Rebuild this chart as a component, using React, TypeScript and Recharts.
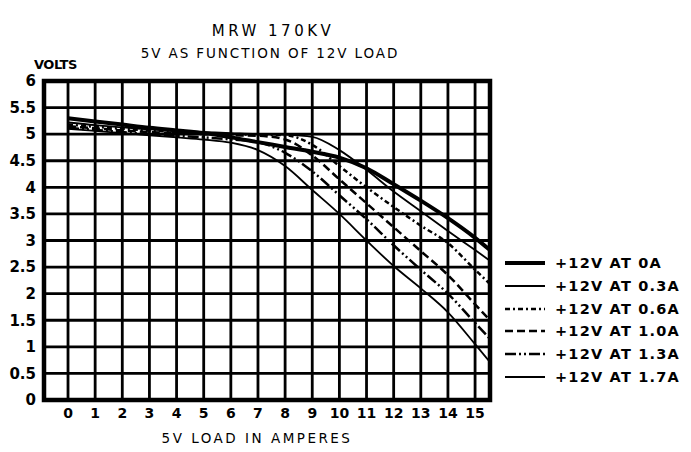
import { LineChart, Line, XAxis, YAxis, CartesianGrid, Legend, ReferenceArea } from 'recharts';

// 5V load in amperes (last point = where the curves leave the frame)
const LOAD = [0, 1, 2, 3, 4, 5, 6, 7, 8, 9, 10, 11, 12, 13, 14, 15, 15.55];

// 5V output (volts) for each 12V load
const V_0A = [5.3, 5.24, 5.18, 5.12, 5.07, 5.02, 4.94, 4.85, 4.76, 4.67, 4.56, 4.36, 4.06, 3.75, 3.42, 3.05, 2.82];
const V_03A = [5.22, 5.17, 5.13, 5.09, 5.06, 5.04, 5.02, 5.0, 4.99, 4.95, 4.7, 4.33, 3.92, 3.55, 3.18, 2.82, 2.62];
const V_06A = [5.18, 5.14, 5.1, 5.07, 5.04, 5.02, 5.0, 4.99, 4.98, 4.8, 4.4, 4.0, 3.63, 3.28, 2.95, 2.45, 2.18];
const V_10A = [5.15, 5.11, 5.07, 5.04, 5.02, 5.0, 4.98, 4.97, 4.9, 4.6, 4.15, 3.7, 3.25, 2.8, 2.35, 1.8, 1.5];
const V_13A = [5.12, 5.08, 5.04, 5.0, 4.97, 4.94, 4.9, 4.85, 4.65, 4.3, 3.85, 3.4, 2.91, 2.45, 2.0, 1.45, 1.15];
const V_17A = [5.1, 5.06, 5.02, 4.98, 4.94, 4.9, 4.84, 4.7, 4.4, 3.95, 3.5, 3.0, 2.52, 2.1, 1.65, 1.05, 0.71];

const X_TICKS = [0, 1, 2, 3, 4, 5, 6, 7, 8, 9, 10, 11, 12, 13, 14, 15];
const Y_TICKS = [0, 0.5, 1, 1.5, 2, 2.5, 3, 3.5, 4, 4.5, 5, 5.5, 6];
const X_DOMAIN = [-0.885, 15.55];

const SERIES = [
  { key: 'a0', name: '+12V AT 0A', values: V_0A, width: 4, dash: undefined },
  { key: 'a03', name: '+12V AT 0.3A', values: V_03A, width: 1.8, dash: undefined },
  { key: 'a06', name: '+12V AT 0.6A', values: V_06A, width: 2.5, dash: '5 3 2 3' },
  { key: 'a10', name: '+12V AT 1.0A', values: V_10A, width: 2.5, dash: '8 4' },
  { key: 'a13', name: '+12V AT 1.3A', values: V_13A, width: 2.5, dash: '11 3 2 3 2 3' },
  { key: 'a17', name: '+12V AT 1.7A', values: V_17A, width: 1.8, dash: undefined },
];

const data = LOAD.map((x, i) => {
  const row: Record<string, number> = { load: x };
  SERIES.forEach((s) => { row[s.key] = s.values[i]; });
  return row;
});

const FONT = '"DejaVu Sans", Arial, sans-serif';

const LegendBox = () => (
  <div style={{ position: 'relative', width: 0, height: 0 }}>
    {SERIES.map((s, i) => (
      <div key={s.key} style={{ position: 'absolute', left: 0, top: i * 22.8, width: 190, height: 20, display: 'flex', alignItems: 'center' }}>
        <svg width={42} height={8} style={{ marginRight: 8 }}>
          <line x1={0} y1={4} x2={40} y2={4} stroke="#000" strokeWidth={s.width} strokeDasharray={s.dash} />
        </svg>
        <span style={{ fontFamily: FONT, fontSize: 14.5, fontWeight: 'bold', letterSpacing: 1.2, color: '#000', whiteSpace: 'nowrap' }}>{s.name}</span>
      </div>
    ))}
  </div>
);

export default function App() {
  return (
    <div style={{ position: 'absolute', left: 0, top: 0, width: 691, height: 452, background: '#fff', color: '#000' }}>
      <div style={{ position: 'absolute', left: 0, width: 546, top: 22, textAlign: 'center', fontFamily: FONT, fontSize: 15, letterSpacing: 3.5 }}>
        MRW 170KV
      </div>
      <div style={{ position: 'absolute', left: 0, width: 540, top: 45, textAlign: 'center', fontFamily: FONT, fontSize: 13.5, letterSpacing: 1.9 }}>
        5V AS FUNCTION OF 12V LOAD
      </div>
      <div style={{ position: 'absolute', left: 34, top: 57, fontFamily: FONT, fontSize: 13, fontWeight: 'bold', letterSpacing: -0.5 }}>
        VOLTS
      </div>
      <div style={{ position: 'absolute', left: 0, width: 514, top: 430, textAlign: 'center', fontFamily: FONT, fontSize: 13.5, letterSpacing: 2.5 }}>
        5V LOAD IN AMPERES
      </div>
      <LineChart width={691} height={452} data={data} margin={{ top: 81, right: 201, bottom: 22, left: 0 }}>
        <CartesianGrid stroke="#000" strokeWidth={2.8} />
        <XAxis
          dataKey="load"
          type="number"
          domain={X_DOMAIN}
          ticks={X_TICKS}
          interval={0}
          allowDataOverflow
          axisLine={false}
          tickLine={false}
          height={30}
          tick={{ fill: '#000', fontSize: 14, fontWeight: 'bold', fontFamily: FONT }}
        />
        <YAxis
          type="number"
          domain={[0, 6]}
          ticks={Y_TICKS}
          interval={0}
          width={44}
          axisLine={false}
          tickLine={false}
          tick={{ fill: '#000', fontSize: 15, fontWeight: 'bold', fontFamily: FONT }}
        />
        <ReferenceArea x1={X_DOMAIN[0]} x2={X_DOMAIN[1]} y1={0} y2={6} fill="none" stroke="#000" strokeWidth={4.5} ifOverflow="visible" />
        {SERIES.map((s) => (
          <Line
            key={s.key}
            dataKey={s.key}
            name={s.name}
            type="monotone"
            stroke="#000"
            strokeWidth={s.width}
            strokeDasharray={s.dash}
            dot={false}
            activeDot={false}
            isAnimationActive={false}
          />
        ))}
        <Legend
          content={() => <LegendBox />}
          wrapperStyle={{ position: 'absolute', left: 505, top: 253, width: 0, height: 0 }}
        />
      </LineChart>
    </div>
  );
}
